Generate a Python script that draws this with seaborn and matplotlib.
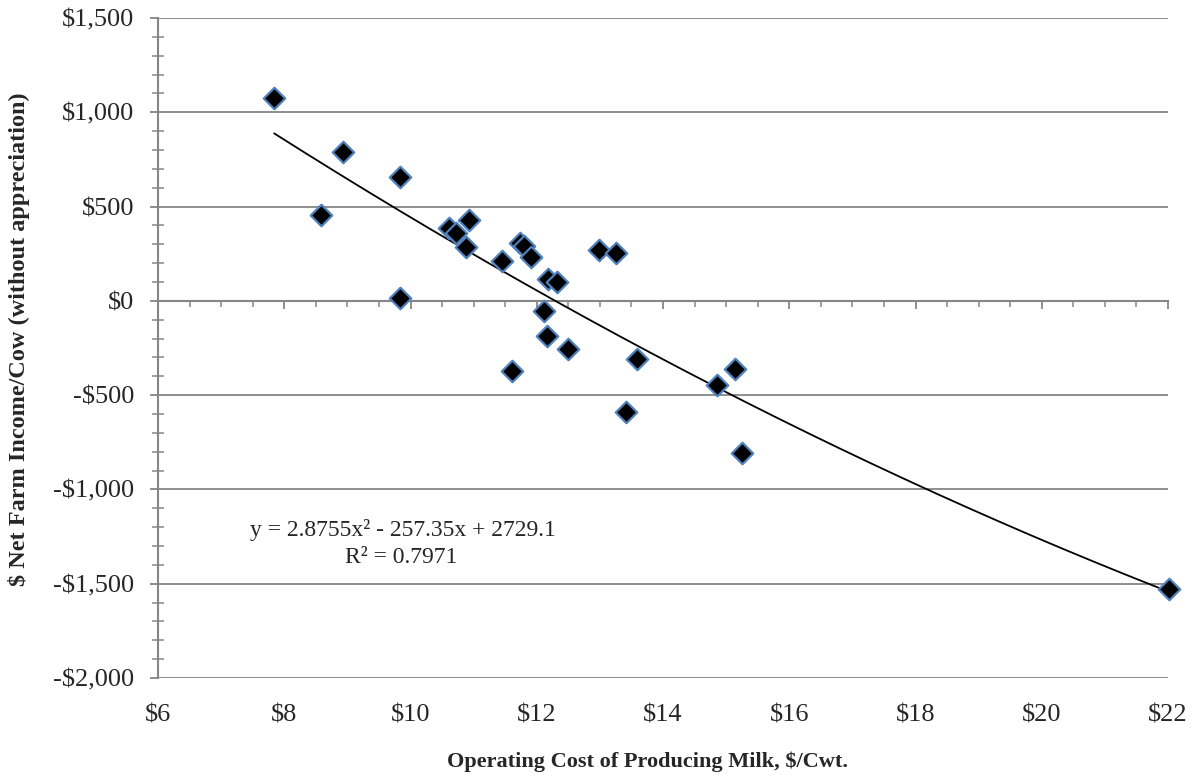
import numpy as np
import matplotlib
matplotlib.use("Agg")
import matplotlib.pyplot as plt
import matplotlib.ticker as mticker
import seaborn as sns

# operating cost ($/cwt) and net farm income per cow
cost = [7.84, 8.58, 8.93, 9.84, 9.84, 10.61, 10.72, 10.92, 10.88, 11.45,
        11.73, 11.80, 11.91, 12.18, 12.32, 12.11, 12.16, 12.49, 11.61, 12.99,
        13.26, 13.59, 13.41, 14.85, 15.14, 15.25, 22.01]
income = [1076, 456, 792, 657, 14, 386, 359, 430, 288, 212,
          306, 293, 235, 117, 99, -53, -189, -255, -372, 271,
          253, -308, -589, -446, -363, -805, -1529]

# polynomial trendline coefficients shown on the chart
coef = [2.8755, -257.35, 2729.1]
r2 = 0.7971

x_ticks = list(range(6, 23, 2))
y_ticks = list(range(-2000, 1501, 500))

sns.set_theme(style="white")
plt.rcParams['font.family'] = ['Liberation Serif', 'DejaVu Serif']

grey = '#868686'

fig = plt.figure(figsize=(11.97, 7.81), dpi=100)
ax = fig.add_axes([158 / 1197, 1 - 678 / 781, 1010 / 1197, 660 / 781])

# trendline
xs = np.linspace(min(cost), max(cost), 200)
ys = np.polyval(coef, xs)
sns.lineplot(x=xs, y=ys, ax=ax, color='black', linewidth=1.3, zorder=3)

# points (last one sits on the right edge, so don't clip it)
sns.scatterplot(x=cost, y=income, ax=ax, marker='D', s=120,
                color='black', edgecolor='#4F81BD', linewidth=1.6, zorder=4,
                clip_on=False)

ax.set_xlim(6, 22)
ax.set_ylim(-2000, 1500)
ax.set_yticks(y_ticks)
ax.yaxis.set_minor_locator(mticker.MultipleLocator(100))
ax.set_xticks(x_ticks)
ax.xaxis.set_minor_locator(mticker.MultipleLocator(0.5))

ax.yaxis.grid(True, color=grey, linewidth=1.3)
ax.set_axisbelow(True)

for s in ['top', 'right']:
    ax.spines[s].set_visible(False)
ax.spines['left'].set_color(grey)
ax.spines['left'].set_linewidth(1.5)
ax.spines['bottom'].set_position(('data', 0))
ax.spines['bottom'].set_color(grey)
ax.spines['bottom'].set_linewidth(1.5)

ax.tick_params(axis='y', which='major', direction='out', length=6, width=1.3,
               color=grey, labelsize=19, pad=11, left=True)
ax.tick_params(axis='y', which='minor', direction='inout', length=9, width=1.1,
               color=grey, left=True)
ax.tick_params(axis='x', which='major', direction='out', length=6, width=1.3,
               color=grey, labelbottom=False, bottom=True)
ax.tick_params(axis='x', which='minor', direction='out', length=4.5, width=1.1,
               color=grey, bottom=True)


def money(v, pos=None):
    if v < 0:
        return f"-${abs(v):,.0f}"
    return f"${v:,.0f}"


ax.yaxis.set_major_formatter(mticker.FuncFormatter(money))

# x tick labels sit at the bottom of the plot, not on the zero axis
ax_lab = ax.twiny()
ax_lab.set_xlim(6, 22)
ax_lab.set_xticks(x_ticks)
ax_lab.xaxis.tick_bottom()
ax_lab.xaxis.set_major_formatter(mticker.FuncFormatter(money))
ax_lab.tick_params(axis='x', length=0, labelsize=19, pad=19)
for s in ax_lab.spines.values():
    s.set_visible(False)

ax.set_xlabel('Operating Cost of Producing Milk, $/Cwt.', fontsize=16, fontweight='bold')
ax.xaxis.set_label_coords(0.485, -0.111)
ax.set_ylabel('$ Net Farm Income/Cow (without appreciation)', fontsize=17.5, fontweight='bold')
ax.yaxis.set_label_coords(-0.127, 0.514)

ax.text(9.88, -1215, 'y = 2.8755x² - 257.35x + 2729.1', fontsize=17,
        ha='center', va='center')
ax.text(9.85, -1362, f'R² = {r2}', fontsize=17, ha='center', va='center')

fig.savefig('out.png', dpi=100)
